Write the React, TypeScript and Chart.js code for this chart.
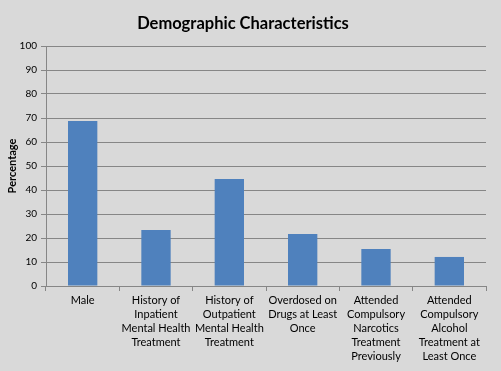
import React, { useEffect, useRef } from "react";
import { Chart, registerables } from "chart.js";

Chart.register(...registerables);

const categories: string[][] = [
  ["Male"],
  ["History of", "Inpatient", "Mental Health", "Treatment"],
  ["History of", "Outpatient", "Mental Health", "Treatment"],
  ["Overdosed on", "Drugs at Least", "Once"],
  ["Attended", "Compulsory", "Narcotics", "Treatment", "Previously"],
  ["Attended", "Compulsory", "Alcohol", "Treatment at", "Least Once"],
];
const percentages: number[] = [68.8, 23.3, 44.6, 21.7, 15.4, 12.1];
const yTicksMax = 100;
const yTickStep = 10;

const FONT = "Lato, 'Open Sans', sans-serif";

export default function App() {
  const ref = useRef<HTMLCanvasElement>(null);
  useEffect(() => {
    document.body.style.margin = "0";
    const bg = {
      id: "bg",
      beforeDraw(c: any) {
        const ctx = c.ctx;
        ctx.save();
        ctx.fillStyle = "#d9d9d9";
        ctx.fillRect(0, 0, c.width, c.height);
        ctx.restore();
      },
    };
    const chart = new Chart(ref.current!, {
      type: "bar",
      data: {
        labels: categories,
        datasets: [
          {
            data: percentages,
            backgroundColor: "#4f81bd",
            barPercentage: 0.4,
            categoryPercentage: 1,
          },
        ],
      },
      options: {
        animation: false,
        responsive: false,
        devicePixelRatio: 1,
        layout: { padding: { left: 0, right: 15, top: 0, bottom: 0 } },
        plugins: {
          legend: { display: false },
          tooltip: { enabled: false },
          title: {
            display: true,
            text: "Demographic Characteristics",
            color: "#000",
            font: { family: FONT, size: 16.5, weight: "bold" },
            padding: { top: 13.5, bottom: 12.7 },
          },
        },
        scales: {
          x: {
            grid: {
              drawOnChartArea: false,
              color: "#868686",
              tickLength: 5,
              offset: true,
            },
            border: { color: "#868686" },
            ticks: {
              color: "#000",
              font: { family: FONT, size: 11, lineHeight: 14 / 11 },
              padding: 2.5,
              maxRotation: 0,
              autoSkip: false,
            },
            afterFit(s: any) {
              s.height = 85;
            },
          },
          y: {
            min: 0,
            max: yTicksMax,
            grid: { color: "#868686", tickLength: 5 },
            border: { color: "#868686" },
            ticks: {
              stepSize: yTickStep,
              color: "#000",
              font: { family: FONT, size: 10 },
              padding: 4,
            },
            title: {
              display: true,
              text: "Percentage",
              color: "#000",
              font: { family: FONT, size: 11, weight: "bold" },
              padding: { top: 6, bottom: 0 },
            },
            afterFit(s: any) {
              s.width = 46;
            },
          },
        },
      },
      plugins: [bg],
    });
    return () => chart.destroy();
  }, []);
  return (
    <div style={{ position: "absolute", left: 0, top: 0, width: 501, height: 371 }}>
      <canvas ref={ref} width={501} height={371} style={{ display: "block" }} />
    </div>
  );
}
